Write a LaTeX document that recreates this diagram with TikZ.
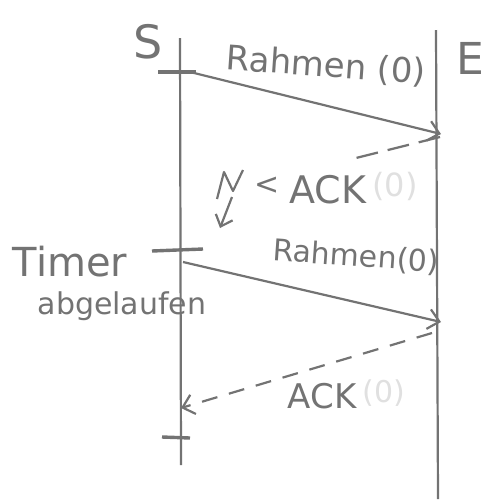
\documentclass[tikz,border=0pt]{standalone}
\usepackage{fontspec}
\setmainfont{DejaVu Sans}
\usetikzlibrary{arrows.meta}
\definecolor{pencil}{gray}{0.45}
\definecolor{faint}{gray}{0.88}
\tikzset{
  lifeline/.style={draw=pencil, line width=2.2pt},
  tick/.style={draw=pencil, line width=3.4pt},
  msg/.style={draw=pencil, line width=2.2pt, -{Straight Barb[length=11pt,width=20pt,line width=2.2pt]}},
  ackmsg/.style={draw=pencil, line width=2.2pt, dash pattern=on 16pt off 12pt, -{Straight Barb[length=11pt,width=20pt,line width=2.2pt]}},
  ackcut/.style={draw=pencil, line width=2.2pt, dash pattern=on 22pt off 10pt},
  hand/.style={text=pencil, inner sep=0pt},
  ghost/.style={text=faint, inner sep=0pt}
}
\begin{document}
\begin{tikzpicture}[x=1pt,y=-1pt]
\useasboundingbox (0,0) rectangle (503,499);
% lifelines
\coordinate (Stop) at (180,38);
\coordinate (Sbot) at (181,465);
\coordinate (Etop) at (436,30);
\coordinate (Ebot) at (438,499);
\draw[lifeline] (Stop) -- (Sbot);
\draw[lifeline] (Etop) -- (Ebot);
\node[hand, font=\fontsize{46}{46}\selectfont] (S) at (148,42) {S};
\node[hand, font=\fontsize{44}{44}\selectfont] (E) at (470,58) {E};
% ticks
\coordinate (t1a) at (158,72); \coordinate (t1b) at (196,72);
\draw[tick] (t1a) -- (t1b);
\coordinate (t2a) at (152,251); \coordinate (t2b) at (203,249);
\draw[tick] (t2a) -- (t2b);
\coordinate (t3a) at (162,437); \coordinate (t3b) at (190,438);
\draw[tick] (t3a) -- (t3b);
% first frame
\coordinate (r1s) at (190,72);
\coordinate (r1e) at (441,134);
\draw[msg] (r1s) -- (r1e);
\node[hand, rotate=-4, font=\fontsize{34}{34}\selectfont] (lab1) at (326,66) {Rahmen (0)};
% lost ack
\coordinate (a1s) at (440,137);
\coordinate (a1e) at (348,160);
\draw[ackcut] (a1s) -- (a1e);
\node[hand, font=\fontsize{38}{38}\selectfont] (ack1) at (328,190) {ACK};
\node[ghost, font=\fontsize{32}{32}\selectfont] (ack1g) at (395,186) {(0)};
\node[hand, font=\fontsize{30}{30}\selectfont] (lt) at (267,186) {<};
% lightning
\coordinate (z0) at (217,199);
\coordinate (z1) at (224,172);
\coordinate (z2) at (233,191);
\coordinate (z3) at (243,170);
\coordinate (z4) at (232,197);
\coordinate (z5) at (220,228);
\draw[draw=pencil, line width=2.2pt, line join=round] (z0) -- (z1) -- (z2) -- (z3);
\draw[draw=pencil, line width=2.2pt, -{Straight Barb[length=10pt,width=18pt,line width=2.2pt]}] (z4) -- (z5);
% timer
\node[hand, font=\fontsize{40}{40}\selectfont] (timer) at (70,262) {Timer};
\node[hand, font=\fontsize{30}{30}\selectfont] (abg) at (122,306) {abgelaufen};
% second frame
\coordinate (r2s) at (183,262);
\coordinate (r2e) at (441,322);
\draw[msg] (r2s) -- (r2e);
\node[hand, rotate=-4, font=\fontsize{30}{30}\selectfont] (lab2) at (356,257) {Rahmen(0)};
% ack
\coordinate (a2s) at (432,333);
\coordinate (a2e) at (181,408);
\draw[ackmsg] (a2s) -- (a2e);
\node[hand, font=\fontsize{34}{34}\selectfont] (ack2) at (322,396) {ACK};
\node[ghost, font=\fontsize{30}{30}\selectfont] (ack2g) at (384,393) {(0)};
\end{tikzpicture}
\end{document}
